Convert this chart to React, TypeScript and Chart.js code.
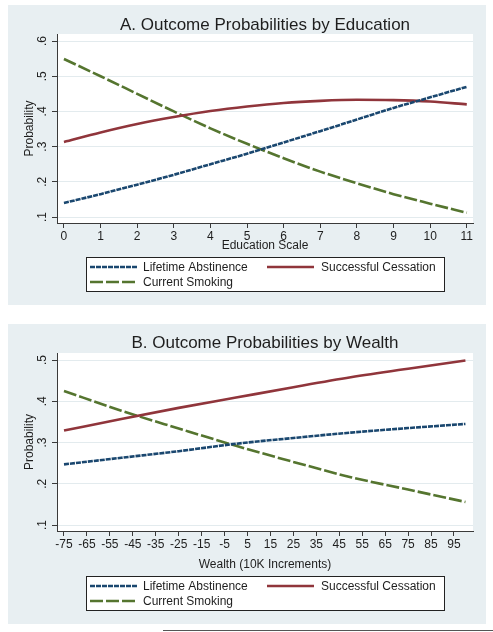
import React, { useEffect, useRef } from "react";
import { Chart, registerables } from "chart.js";

Chart.register(...registerables);

// ---------- data ----------
const educationLevels = [0, 1, 2, 3, 4, 5, 6, 7, 8, 9, 10, 11];
const abstinenceByEducation = [0.14, 0.165, 0.192, 0.22, 0.25, 0.28, 0.312, 0.344, 0.377, 0.41, 0.44, 0.47];
const cessationByEducation = [0.313, 0.34, 0.364, 0.384, 0.401, 0.414, 0.424, 0.43, 0.433, 0.432, 0.428, 0.42];
const smokingByEducation = [0.549, 0.5, 0.45, 0.4, 0.352, 0.308, 0.267, 0.229, 0.196, 0.165, 0.138, 0.112];

const wealthLevels = [-75, -50, -25, 0, 25, 50, 75, 100];
const abstinenceByWealth = [0.247, 0.263, 0.279, 0.297, 0.311, 0.324, 0.335, 0.345];
const cessationByWealth = [0.329, 0.357, 0.384, 0.409, 0.434, 0.458, 0.479, 0.499];
const smokingByWealth = [0.425, 0.377, 0.334, 0.292, 0.253, 0.216, 0.186, 0.156];

const educationTicks = [0, 1, 2, 3, 4, 5, 6, 7, 8, 9, 10, 11];
const wealthTicks = [-75, -65, -55, -45, -35, -25, -15, -5, 5, 15, 25, 35, 45, 55, 65, 75, 85, 95];
const probabilityTicksA = [0.1, 0.2, 0.3, 0.4, 0.5, 0.6];
const probabilityTicksB = [0.1, 0.2, 0.3, 0.4, 0.5];

const seriesNames = ["Lifetime Abstinence", "Successful Cessation", "Current Smoking"];

// ---------- styles ----------
const FONT = "'Liberation Sans', Arial, Helvetica, sans-serif";
const PANEL_BG = "#e8eff2";
const GRID = "#e3ebee";
const AXIS = "#3a3a3a";
const TEXT = "#1e1e1e";
const seriesColors = ["#1a476f", "#90353b", "#55752f"];
const seriesDash: number[][] = [[5, 1], [], [13, 3]];
const LINE_W = 2.6;

const panelPlugin = {
  id: "panel",
  beforeDraw(chart: any) {
    const { ctx, width, height, chartArea } = chart;
    ctx.save();
    ctx.fillStyle = PANEL_BG;
    ctx.fillRect(0, 0, width, height);
    ctx.fillStyle = "#ffffff";
    ctx.fillRect(chartArea.left, chartArea.top, chartArea.right - chartArea.left, chartArea.bottom - chartArea.top);
    ctx.restore();
  },
  afterDraw(chart: any, _args: any, opts: any) {
    const { ctx, chartArea, height } = chart;
    ctx.save();
    // title
    ctx.fillStyle = TEXT;
    ctx.font = `17px ${FONT}`;
    ctx.textAlign = "center";
    ctx.textBaseline = "middle";
    ctx.fillText(opts.title, (chartArea.left + chartArea.right) / 2, opts.titleY);

    // legend box
    const bx = chartArea.left + 29;
    const bw = chartArea.right - 29 - bx;
    const by = height - 48;
    const bh = 34;
    ctx.fillStyle = "#ffffff";
    ctx.fillRect(bx, by, bw, bh);
    ctx.strokeStyle = "#222";
    ctx.lineWidth = 1;
    ctx.strokeRect(bx + 0.5, by + 0.5, bw, bh);

    const slots = [
      { sx: bx + 4, tx: bx + 57, y: by + 10 },
      { sx: bx + 181, tx: bx + 235, y: by + 10 },
      { sx: bx + 4, tx: bx + 57, y: by + 25 },
    ];
    chart.data.datasets.forEach((ds: any, i: number) => {
      const s = slots[i];
      ctx.beginPath();
      ctx.strokeStyle = ds.borderColor;
      ctx.lineWidth = ds.borderWidth;
      ctx.setLineDash(ds.borderDash || []);
      ctx.moveTo(s.sx, s.y);
      ctx.lineTo(s.sx + 47, s.y);
      ctx.stroke();
      ctx.setLineDash([]);
      ctx.fillStyle = TEXT;
      ctx.font = `12px ${FONT}`;
      ctx.textAlign = "left";
      ctx.textBaseline = "middle";
      ctx.fillText(ds.label, s.tx, s.y + 0.5);
    });
    ctx.restore();
  },
};

type PanelProps = {
  title: string;
  titleY: number;
  xTitle: string;
  xValues: number[];
  series: number[][];
  xTicks: number[];
  yTicks: number[];
  xMin: number;
  xMax: number;
  yMin: number;
  yMax: number;
  xAxisHeight: number;
};

function Panel(p: PanelProps) {
  const ref = useRef<HTMLCanvasElement | null>(null);
  useEffect(() => {
    if (!ref.current) return;
    const datasets = p.series.map((vals, i) => ({
      label: seriesNames[i],
      data: p.xValues.map((x, j) => ({ x, y: vals[j] })),
      borderColor: seriesColors[i],
      backgroundColor: seriesColors[i],
      borderWidth: LINE_W,
      borderDash: seriesDash[i],
      pointRadius: 0,
      fill: false,
      cubicInterpolationMode: "monotone" as const,
    }));
    const chart = new Chart(ref.current, {
      type: "line",
      data: { datasets },
      plugins: [panelPlugin],
      options: {
        responsive: false,
        animation: false,
        devicePixelRatio: 1,
        layout: { padding: { top: 29, right: 13, left: 0, bottom: 0 } },
        plugins: {
          legend: { display: false },
          tooltip: { enabled: false },
          title: { display: false },
          panel: { title: p.title, titleY: p.titleY },
        } as any,
        scales: {
          x: {
            type: "linear",
            min: p.xMin,
            max: p.xMax,
            afterBuildTicks: (s: any) => {
              s.ticks = p.xTicks.map((v) => ({ value: v }));
            },
            afterFit: (s: any) => {
              s.height = p.xAxisHeight;
            },
            border: { display: true, color: AXIS, width: 1 },
            grid: { drawOnChartArea: false, drawTicks: true, tickLength: 5, tickColor: AXIS, tickWidth: 1 },
            ticks: {
              autoSkip: false,
              maxRotation: 0,
              minRotation: 0,
              padding: 1,
              color: TEXT,
              font: { family: FONT, size: 12 },
              callback: (v: any) => String(v),
            },
            title: {
              display: true,
              text: p.xTitle,
              color: TEXT,
              font: { family: FONT, size: 12 },
              padding: { top: 0, bottom: 51.8 },
            },
          },
          y: {
            type: "linear",
            min: p.yMin,
            max: p.yMax,
            afterBuildTicks: (s: any) => {
              s.ticks = p.yTicks.map((v) => ({ value: v }));
            },
            afterFit: (s: any) => {
              s.width = 49;
            },
            border: { display: true, color: AXIS, width: 1 },
            grid: { color: GRID, lineWidth: 1, drawTicks: true, tickLength: 5, tickColor: AXIS, tickWidth: 1 },
            ticks: {
              minRotation: 90,
              maxRotation: 90,
              crossAlign: "center",
              padding: 4,
              color: TEXT,
              font: { family: FONT, size: 12 },
              callback: (v: any) => Number(v).toFixed(1).replace(/^0/, ""),
            },
            title: {
              display: true,
              text: "Probability",
              color: TEXT,
              font: { family: FONT, size: 12 },
              padding: { top: 14, bottom: 0 },
            },
          },
        },
      },
    });
    return () => chart.destroy();
  }, []);
  return <canvas ref={ref} width={478} height={300} style={{ width: 478, height: 300, display: "block" }} />;
}

export default function App() {
  return (
    <div style={{ position: "absolute", left: 0, top: 0, width: 493, height: 632, background: "#ffffff", overflow: "hidden" }}>
      <div style={{ position: "absolute", left: 8, top: 5 }}>
        <Panel
          title="A. Outcome Probabilities by Education"
          titleY={20}
          xTitle="Education Scale"
          xValues={educationLevels}
          series={[abstinenceByEducation, cessationByEducation, smokingByEducation]}
          xTicks={educationTicks}
          yTicks={probabilityTicksA}
          xMin={-0.19}
          xMax={11.17}
          yMin={0.083}
          yMax={0.62}
          xAxisHeight={82}
        />
      </div>
      <div style={{ position: "absolute", left: 8, top: 324 }}>
        <Panel
          title="B. Outcome Probabilities by Wealth"
          titleY={19}
          xTitle="Wealth (10K Increments)"
          xValues={wealthLevels}
          series={[abstinenceByWealth, cessationByWealth, smokingByWealth]}
          xTicks={wealthTicks}
          yTicks={probabilityTicksB}
          xMin={-78.05}
          xMax={103.3}
          yMin={0.0855}
          yMax={0.517}
          xAxisHeight={93}
        />
      </div>
      <div style={{ position: "absolute", left: 163, top: 630, width: 330, height: 1, background: "#555" }} />
    </div>
  );
}
